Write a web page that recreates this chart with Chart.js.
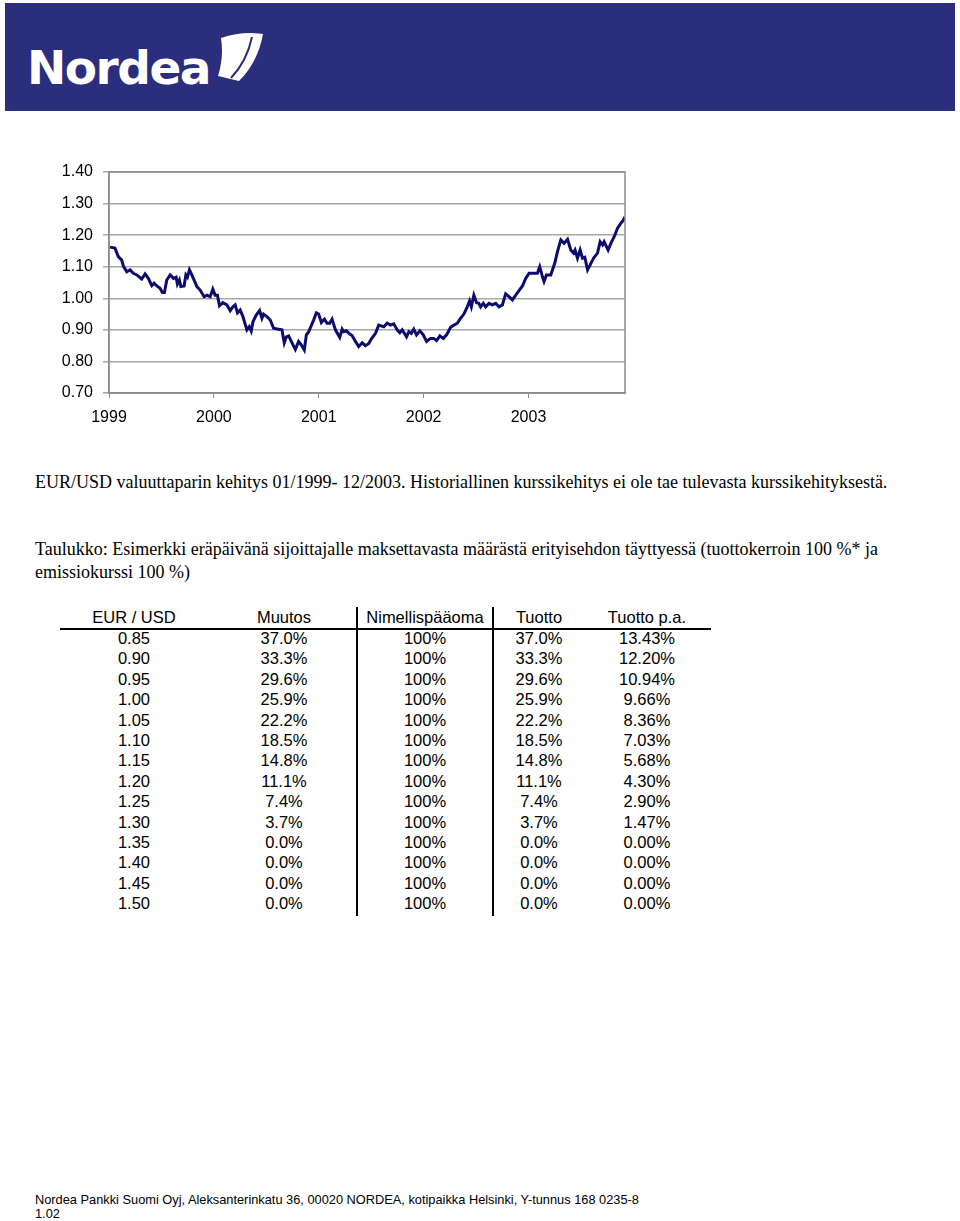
<!DOCTYPE html>
<html>
<head>
<meta charset="utf-8">
<script src="https://cdn.jsdelivr.net/npm/chart.js@4.4.1/dist/chart.umd.min.js"></script>
<style>
  body { margin: 0; background: #fff; width: 960px; height: 1221px; position: relative; overflow: hidden; }
  .banner { position: absolute; left: 5px; top: 3px; width: 950px; height: 108px; background: #2a2e7c; }
  .brand { position: absolute; left: 22px; top: 37px; color: #fff; font: bold 47px "DejaVu Sans", sans-serif; letter-spacing: -1.5px; line-height: 56px; }
  .sail { position: absolute; left: 207px; top: 26px; }
  #chartBox { position: absolute; left: 0; top: 150px; width: 660px; height: 300px; }
  .serif { position: absolute; left: 35px; font: 18px "Liberation Serif", "Times New Roman", serif; color: #000; white-space: nowrap; }
  .cell { position: absolute; width: 160px; margin-left: -80px; text-align: center; font: 16.5px "Liberation Sans", Arial, sans-serif; color: #000; white-space: nowrap; }
  .rule { position: absolute; background: #000; }
  .foot { position: absolute; left: 35px; font: 12.8px/14px "Liberation Sans", Arial, sans-serif; color: #000; white-space: nowrap; }
</style>
</head>
<body>
<div class="banner">
  <div class="brand">Nordea</div>
  <svg class="sail" width="60" height="58" viewBox="0 0 60 58">
    <path d="M9 9 Q30 2 51 5 Q46 33 27 52 L6 47 Q12 28 9 9 Z" fill="#fff"/>
    <path d="M40 8 Q35 32 19 49" stroke="#2a2e7c" stroke-width="2" fill="none"/>
  </svg>
</div>

<div id="chartBox"><canvas id="rateChart"></canvas></div>

<div class="serif" style="top:472px">EUR/USD valuuttaparin kehitys 01/1999- 12/2003. Historiallinen kurssikehitys ei ole tae tulevasta kurssikehityksestä.</div>
<div class="serif" style="top:539px">Taulukko: Esimerkki eräpäivänä sijoittajalle maksettavasta määrästä erityisehdon täyttyessä (tuottokerroin 100 %* ja</div>
<div class="serif" style="top:562px">emissiokurssi 100 %)</div>

<div id="table"></div>

<div class="foot" style="top:1193px">Nordea Pankki Suomi Oyj, Aleksanterinkatu 36, 00020 NORDEA, kotipaikka Helsinki, Y-tunnus 168 0235-8</div>
<div class="foot" style="top:1207px">1.02</div>

<script>
'use strict';

// Chart data
const rateDates = [
  1999.010, 1999.057, 1999.089, 1999.121, 1999.137, 1999.169, 1999.201, 1999.232, 1999.265, 1999.312,
  1999.344, 1999.375, 1999.408, 1999.430, 1999.456, 1999.487, 1999.509, 1999.528, 1999.551, 1999.583,
  1999.614, 1999.640, 1999.652, 1999.671, 1999.685, 1999.716, 1999.733, 1999.748, 1999.767, 1999.790,
  1999.838, 1999.869, 1999.907, 1999.933, 1999.965, 1999.990, 2000.012, 2000.034, 2000.053, 2000.086,
  2000.124, 2000.156, 2000.181, 2000.203, 2000.225, 2000.251, 2000.277, 2000.315, 2000.337, 2000.356,
  2000.373, 2000.404, 2000.436, 2000.458, 2000.474, 2000.506, 2000.538, 2000.569, 2000.602, 2000.649,
  2000.671, 2000.691, 2000.713, 2000.745, 2000.777, 2000.808, 2000.834, 2000.862, 2000.882, 2000.904,
  2000.951, 2000.977, 2000.999, 2001.025, 2001.054, 2001.079, 2001.104, 2001.127, 2001.159, 2001.200,
  2001.223, 2001.238, 2001.264, 2001.295, 2001.318, 2001.350, 2001.381, 2001.414, 2001.445, 2001.477,
  2001.499, 2001.541, 2001.572, 2001.620, 2001.652, 2001.684, 2001.715, 2001.748, 2001.773, 2001.796,
  2001.837, 2001.859, 2001.882, 2001.906, 2001.932, 2001.964, 2001.996, 2002.028, 2002.066, 2002.097,
  2002.123, 2002.155, 2002.187, 2002.219, 2002.257, 2002.289, 2002.321, 2002.346, 2002.384, 2002.416,
  2002.438, 2002.455, 2002.479, 2002.505, 2002.527, 2002.543, 2002.569, 2002.591, 2002.623, 2002.655,
  2002.687, 2002.718, 2002.751, 2002.782, 2002.814, 2002.846, 2002.878, 2002.909, 2002.942, 2002.973,
  2003.005, 2003.053, 2003.085, 2003.107, 2003.133, 2003.148, 2003.171, 2003.212, 2003.250, 2003.276,
  2003.308, 2003.339, 2003.372, 2003.403, 2003.429, 2003.444, 2003.467, 2003.492, 2003.515, 2003.537,
  2003.563, 2003.587, 2003.620, 2003.658, 2003.683, 2003.706, 2003.721, 2003.759, 2003.785, 2003.817,
  2003.849, 2003.881, 2003.906, 2003.918
];
const rateValues = [
  1.162, 1.159, 1.132, 1.121, 1.102, 1.084, 1.090, 1.079, 1.074, 1.061,
  1.077, 1.063, 1.040, 1.048, 1.039, 1.032, 1.018, 1.018, 1.058, 1.074,
  1.063, 1.067, 1.045, 1.058, 1.037, 1.039, 1.074, 1.067, 1.090, 1.074,
  1.037, 1.026, 1.005, 1.010, 1.005, 1.029, 1.010, 1.010, 0.976, 0.986,
  0.979, 0.961, 0.973, 0.979, 0.954, 0.963, 0.942, 0.900, 0.910, 0.896,
  0.926, 0.947, 0.961, 0.937, 0.950, 0.942, 0.931, 0.905, 0.903, 0.900,
  0.859, 0.878, 0.881, 0.859, 0.838, 0.863, 0.852, 0.836, 0.884, 0.894,
  0.931, 0.954, 0.950, 0.923, 0.934, 0.921, 0.921, 0.934, 0.900, 0.876,
  0.902, 0.894, 0.897, 0.887, 0.882, 0.863, 0.847, 0.859, 0.850, 0.857,
  0.870, 0.889, 0.915, 0.910, 0.921, 0.915, 0.919, 0.900, 0.891, 0.900,
  0.878, 0.894, 0.889, 0.902, 0.884, 0.897, 0.884, 0.863, 0.873, 0.873,
  0.866, 0.881, 0.873, 0.884, 0.908, 0.915, 0.921, 0.934, 0.950, 0.973,
  0.992, 0.973, 1.010, 0.986, 0.984, 0.973, 0.984, 0.973, 0.984, 0.979,
  0.984, 0.973, 0.979, 1.014, 1.005, 0.995, 1.010, 1.024, 1.039, 1.063,
  1.079, 1.079, 1.079, 1.100, 1.068, 1.053, 1.074, 1.074, 1.111, 1.148,
  1.185, 1.174, 1.187, 1.153, 1.143, 1.153, 1.127, 1.153, 1.127, 1.130,
  1.090, 1.105, 1.127, 1.143, 1.179, 1.169, 1.179, 1.153, 1.174, 1.195,
  1.222, 1.238, 1.248, 1.258
];
const yearTicks = [1999, 2000, 2001, 2002, 2003];
const rateTicks = [0.70, 0.80, 0.90, 1.00, 1.10, 1.20, 1.30, 1.40];

// Table data
const tableHeaders = ['EUR / USD', 'Muutos', 'Nimellispääoma', 'Tuotto', 'Tuotto p.a.'];
const fxLevels = ['0.85', '0.90', '0.95', '1.00', '1.05', '1.10', '1.15', '1.20', '1.25', '1.30', '1.35', '1.40', '1.45', '1.50'];
const changePct = ['37.0%', '33.3%', '29.6%', '25.9%', '22.2%', '18.5%', '14.8%', '11.1%', '7.4%', '3.7%', '0.0%', '0.0%', '0.0%', '0.0%'];
const principal = ['100%', '100%', '100%', '100%', '100%', '100%', '100%', '100%', '100%', '100%', '100%', '100%', '100%', '100%'];
const returnPct = ['37.0%', '33.3%', '29.6%', '25.9%', '22.2%', '18.5%', '14.8%', '11.1%', '7.4%', '3.7%', '0.0%', '0.0%', '0.0%', '0.0%'];
const returnPa = ['13.43%', '12.20%', '10.94%', '9.66%', '8.36%', '7.03%', '5.68%', '4.30%', '2.90%', '1.47%', '0.00%', '0.00%', '0.00%', '0.00%'];

// build the table
const table = document.getElementById('table');
const colCenters = [134, 284, 425, 539, 647];

function addCell(txt, x, y){
  let div = document.createElement('div');
  div.className = 'cell';
  div.style.left = x + 'px';
  div.style.top = y + 'px';
  div.textContent = txt;
  table.appendChild(div);
}

function addRule(x, y, w, h){
  let div = document.createElement('div');
  div.className = 'rule';
  div.style.left = x + 'px';
  div.style.top = y + 'px';
  div.style.width = w + 'px';
  div.style.height = h + 'px';
  table.appendChild(div);
}

for(let i = 0; i < tableHeaders.length; i++){
  addCell(tableHeaders[i], colCenters[i], 608);
}
const columns = [fxLevels, changePct, principal, returnPct, returnPa];
for(let r = 0; r < fxLevels.length; r++){
  for(let c = 0; c < columns.length; c++){
    addCell(columns[c][r], colCenters[c], 629 + r * 20.4);
  }
}
addRule(60, 628, 651, 2);
addRule(356, 607, 2, 309);
addRule(492, 607, 2, 309);

// frame round the plot area
const framePlugin = {
  id: 'frame',
  afterDraw(chart){
    const a = chart.chartArea;
    const c = chart.ctx;
    c.save();
    c.strokeStyle = '#8c8c8c';
    c.lineWidth = 1.5;
    c.strokeRect(a.left, a.top, a.right - a.left, a.bottom - a.top);
    c.restore();
  }
};

const points = rateDates.map((d, i) => ({x: d, y: rateValues[i]}));

new Chart(document.getElementById('rateChart'), {
  type: 'line',
  data: {
    datasets: [{
      data: points,
      borderColor: '#0c0c6c',
      borderWidth: 3,
      pointRadius: 0,
      tension: 0,
      fill: false
    }]
  },
  options: {
    responsive: true,
    maintainAspectRatio: false,
    animation: false,
    layout: { padding: { top: 22, right: 35, left: 0, bottom: 0 } },
    plugins: {
      legend: { display: false },
      tooltip: { enabled: false }
    },
    scales: {
      x: {
        type: 'linear',
        min: 1999,
        max: 2003.92,
        afterBuildTicks: (scale) => { scale.ticks = yearTicks.map(v => ({value: v})); },
        afterFit: (scale) => { scale.height = 57; },
        grid: { drawOnChartArea: false, color: '#8c8c8c', tickLength: 5 },
        border: { color: '#8c8c8c', width: 1.5 },
        ticks: {
          color: '#000',
          font: { family: '"Liberation Sans", Arial, sans-serif', size: 16 },
          padding: 10,
          maxRotation: 0,
          callback: (v) => String(v)
        }
      },
      y: {
        min: 0.7,
        max: 1.4,
        afterBuildTicks: (scale) => { scale.ticks = rateTicks.map(v => ({value: v})); },
        afterFit: (scale) => { scale.width = 109; },
        grid: { color: '#a8a8a8', lineWidth: 1.5, tickLength: 6 },
        border: { color: '#8c8c8c', width: 1.5 },
        ticks: {
          color: '#000',
          font: { family: '"Liberation Sans", Arial, sans-serif', size: 16 },
          padding: 10,
          callback: (v) => Number(v).toFixed(2)
        }
      }
    }
  },
  plugins: [framePlugin]
});
</script>
</body>
</html>
